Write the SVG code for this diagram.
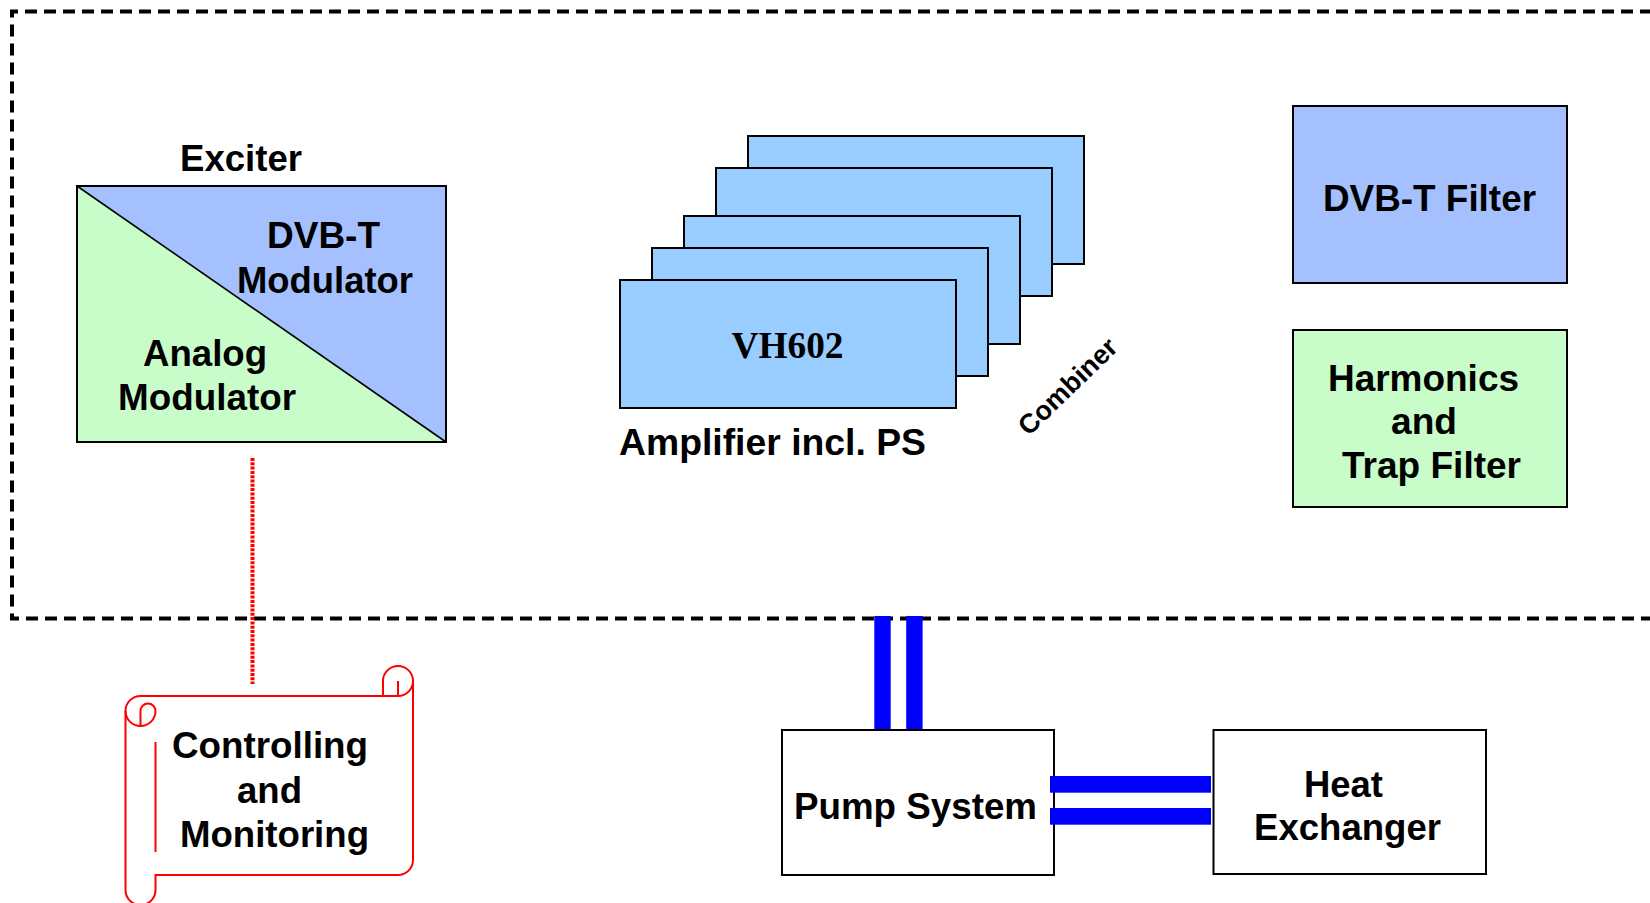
<svg xmlns="http://www.w3.org/2000/svg" width="1650" height="903" viewBox="0 0 1650 903">
  <style>
    .lbl { font-family: "Liberation Sans", Arial, sans-serif; font-weight: bold; font-size: 36.5px; fill: #000; text-anchor: middle; }
    .serif { font-family: "Liberation Serif", "Times New Roman", serif; font-weight: bold; font-size: 38px; fill: #000; text-anchor: middle; }
    .box { stroke: #000; stroke-width: 2; }
    .amp { fill: #99ccff; stroke: #000; stroke-width: 2; }
    .pipe { fill: #0000ff; }
  </style>

  <rect width="1650" height="903" fill="#ffffff"/>

  <!-- transmitter cabinet outline (dashed) -->
  <g id="cabinet">
    <path d="M 1660,11.5 H 12 V 618.5 H 1660" fill="none" stroke="#000" stroke-width="4" stroke-dasharray="12 7" stroke-dashoffset="11"/>
  </g>

  <!-- exciter -->
  <g id="exciter">
    <text class="lbl" x="241" y="171" textLength="122" lengthAdjust="spacingAndGlyphs">Exciter</text>
    <polygon points="77,186 446,186 446,442" fill="#a4c0ff"/>
    <polygon points="77,186 77,442 446,442" fill="#c8fcc8"/>
    <line x1="77" y1="186" x2="446" y2="442" stroke="#000" stroke-width="1.6"/>
    <rect class="box" x="77" y="186" width="369" height="256" fill="none"/>
    <text class="lbl" x="323.5" y="248" textLength="113" lengthAdjust="spacingAndGlyphs">DVB-T</text>
    <text class="lbl" x="325" y="293" textLength="176" lengthAdjust="spacingAndGlyphs">Modulator</text>
    <text class="lbl" x="205" y="366" textLength="124" lengthAdjust="spacingAndGlyphs">Analog</text>
    <text class="lbl" x="207" y="410" textLength="178" lengthAdjust="spacingAndGlyphs">Modulator</text>
  </g>

  <!-- amplifier stack -->
  <g id="amplifiers">
    <rect class="amp" x="748" y="136" width="336" height="128"/>
    <rect class="amp" x="716" y="168" width="336" height="128"/>
    <rect class="amp" x="684" y="216" width="336" height="128"/>
    <rect class="amp" x="652" y="248" width="336" height="128"/>
    <rect class="amp" x="620" y="280" width="336" height="128"/>
    <text class="serif" x="787.5" y="358" textLength="112" lengthAdjust="spacingAndGlyphs">VH602</text>
    <text class="lbl" x="772.5" y="455" textLength="307" lengthAdjust="spacingAndGlyphs">Amplifier incl. PS</text>
  </g>

  <g id="combiner">
    <text class="lbl" style="font-size:27px" transform="translate(1074,393) rotate(-44)" x="0" y="0" textLength="126" lengthAdjust="spacingAndGlyphs">Combiner</text>
  </g>

  <!-- output filters -->
  <g id="dvbt-filter">
    <rect class="box" x="1293" y="106" width="274" height="177" fill="#a4c0ff"/>
    <text class="lbl" x="1429.5" y="211" textLength="213" lengthAdjust="spacingAndGlyphs">DVB-T Filter</text>
  </g>
  <g id="harmonics-filter">
    <rect class="box" x="1293" y="330" width="274" height="177" fill="#c8fcc8"/>
    <text class="lbl" x="1423.5" y="391" textLength="191" lengthAdjust="spacingAndGlyphs">Harmonics</text>
    <text class="lbl" x="1424" y="434" textLength="66" lengthAdjust="spacingAndGlyphs">and</text>
    <text class="lbl" x="1431.5" y="478" textLength="179" lengthAdjust="spacingAndGlyphs">Trap Filter</text>
  </g>

  <!-- links -->
  <g id="connectors">
    <line x1="252.5" y1="458" x2="252.5" y2="684" stroke="#ff0000" stroke-width="4" stroke-dasharray="3 1.3"/>
    <rect class="pipe" x="874.3" y="616" width="16.4" height="113"/>
    <rect class="pipe" x="906.2" y="616" width="16.4" height="113"/>
  </g>

  <!-- control & monitoring scroll -->
  <g id="control-monitoring" fill="none" stroke="#ff0000" stroke-width="2">
    <path d="M 125.5,711 A 15,15 0 0 1 140.5,696 H 383 V 681 A 15,15 0 0 1 413,681 V 860 A 15,15 0 0 1 398,875 H 155.5 V 890 A 15,15 0 0 1 125.5,890 Z" fill="#ffffff"/>
    <path d="M 383,696 H 398 A 15,15 0 0 0 413,681"/>
    <path d="M 398,696 V 681"/>
    <path d="M 140.5,726 V 711 A 7.5,7.5 0 0 1 155.5,711 A 15,15 0 0 1 125.5,711"/>
    <path d="M 155.5,742 V 852"/>
    <g stroke="none">
      <text class="lbl" x="270" y="758" textLength="196" lengthAdjust="spacingAndGlyphs">Controlling</text>
      <text class="lbl" x="269.5" y="803" textLength="65" lengthAdjust="spacingAndGlyphs">and</text>
      <text class="lbl" x="274.5" y="847" textLength="189" lengthAdjust="spacingAndGlyphs">Monitoring</text>
    </g>
  </g>

  <!-- cooling -->
  <g id="pump-system">
    <rect class="box" x="782" y="730" width="272" height="145" fill="#ffffff"/>
    <text class="lbl" x="915.5" y="819" textLength="243" lengthAdjust="spacingAndGlyphs">Pump System</text>
  </g>
  <g id="heat-exchanger">
    <rect class="box" x="1213.5" y="730" width="272.5" height="144" fill="#ffffff"/>
    <text class="lbl" x="1343.5" y="797" textLength="79" lengthAdjust="spacingAndGlyphs">Heat</text>
    <text class="lbl" x="1347.5" y="840" textLength="187" lengthAdjust="spacingAndGlyphs">Exchanger</text>
  </g>

  <g id="cooling-pipes">
    <rect class="pipe" x="1050" y="776" width="161" height="16.7"/>
    <rect class="pipe" x="1050" y="808" width="161" height="16.7"/>
  </g>
</svg>
